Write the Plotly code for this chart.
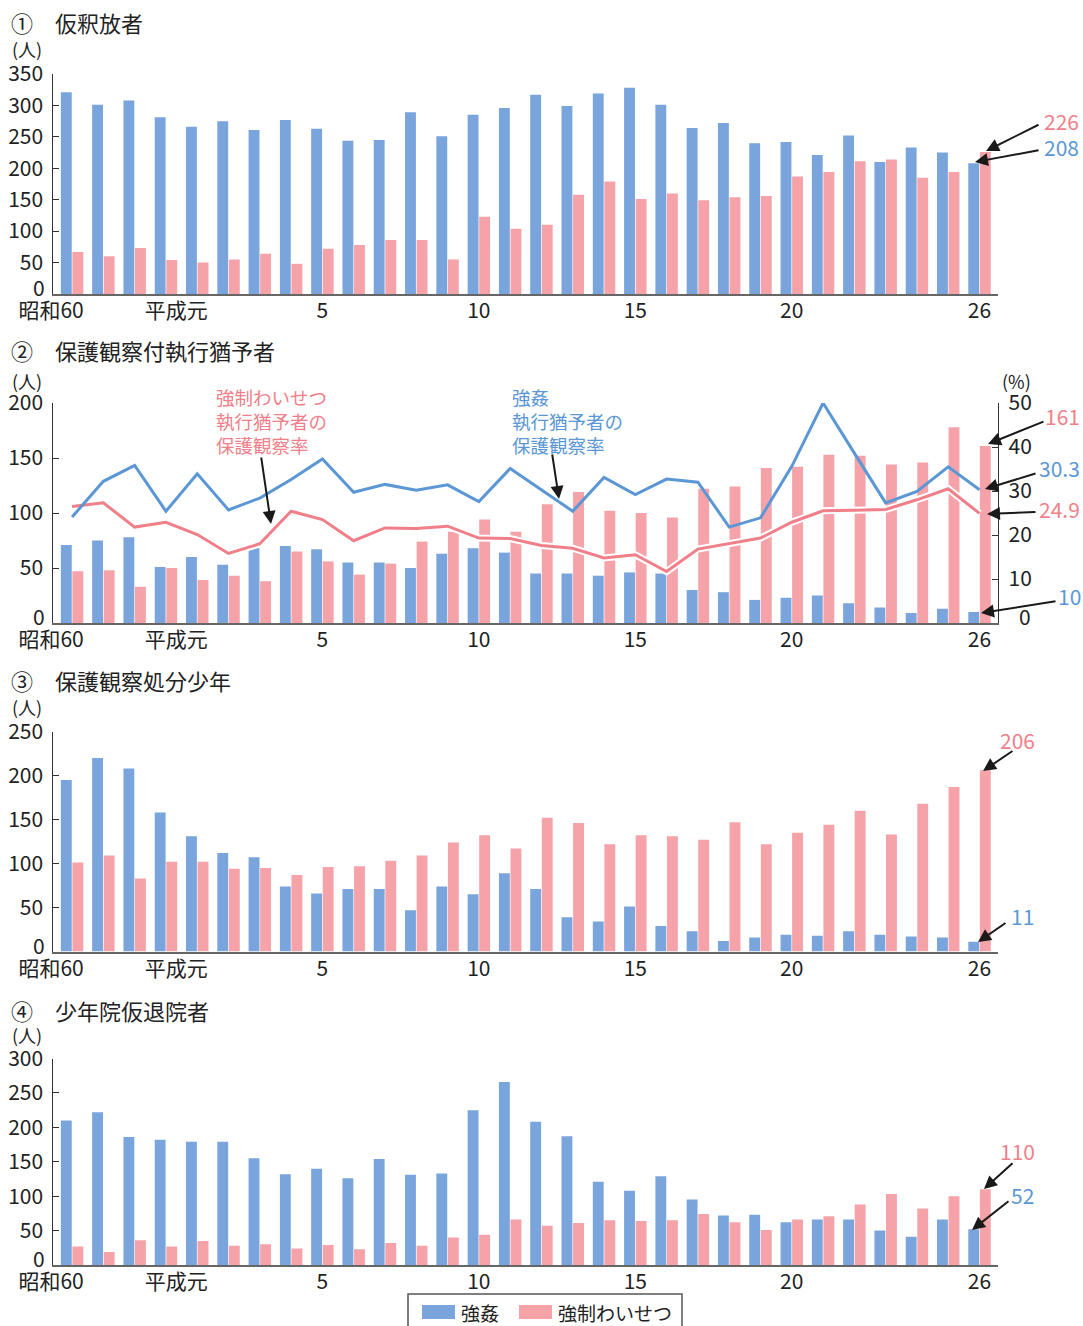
import plotly.graph_objects as go

W, H = 1083, 1326
FONT = "Noto Sans CJK JP"

# ---------------- data ----------------
years = ["昭和60", "61", "62", "63", "平成元"] + [str(i) for i in range(2, 27)]
tick_years = ["昭和60", "平成元", "5", "10", "15", "20", "26"]
tick_text = ["昭和60\u3000\u3000", "平成元\u3000\u3000", "5", "10", "15", "20", "26"]
series_names = ["強姦", "強制わいせつ"]

# ① 仮釈放者
parole_rape = [321, 301, 308, 281, 266, 275, 261, 277, 263, 244, 245, 289, 251, 285, 296,
               317, 299, 319, 328, 301, 264, 272, 240, 242, 221, 252, 210, 233, 225, 208]
parole_indecent = [67, 60, 73, 54, 50, 55, 64, 48, 72, 78, 86, 86, 55, 123, 104,
                   110, 158, 179, 151, 160, 149, 154, 156, 187, 194, 211, 214, 185, 194, 226]

# ② 保護観察付執行猶予者
susp_rape = [71, 75, 78, 51, 60, 53, 68, 70, 67, 55, 55, 50, 63, 68, 64,
             45, 45, 43, 46, 45, 30, 28, 21, 23, 25, 18, 14, 9, 13, 10]
susp_indecent = [47, 48, 33, 50, 39, 43, 38, 65, 56, 44, 54, 74, 83, 94, 83,
                 108, 119, 102, 100, 96, 122, 124, 141, 142, 153, 152, 144, 146, 178, 161]
rate_rape = [24.1, 32.2, 35.8, 25.4, 33.9, 25.7, 28.4, 32.6, 37.3, 29.7, 31.5, 30.2, 31.4, 27.6, 35.1,
             30.3, 25.4, 33.1, 29.2, 32.7, 32.0, 21.8, 23.9, 35.6, 50.0, 38.6, 27.3, 29.9, 35.5, 30.3]
rate_indecent = [26.5, 27.3, 21.8, 22.9, 20.1, 15.8, 18.0, 25.4, 23.5, 18.7, 21.6, 21.5, 22.0, 19.3, 19.2,
                 17.6, 17.0, 14.8, 15.5, 11.7, 16.8, 18.0, 19.3, 22.9, 25.5, 25.6, 25.8, 28.0, 30.5, 24.9]

# ③ 保護観察処分少年
juv_rape = [195, 220, 208, 158, 131, 112, 107, 74, 66, 71, 71, 47, 74, 65, 89,
            71, 39, 34, 51, 29, 23, 12, 16, 19, 18, 23, 19, 17, 16, 11]
juv_indecent = [101, 109, 83, 102, 102, 94, 95, 87, 96, 97, 103, 109, 124, 132, 117,
                152, 146, 122, 132, 131, 127, 147, 122, 135, 144, 160, 133, 168, 187, 206]

# ④ 少年院仮退院者
ts_rape = [210, 222, 186, 182, 179, 179, 155, 132, 140, 126, 154, 131, 133, 225, 266,
           208, 187, 121, 108, 129, 95, 72, 73, 62, 66, 66, 50, 41, 66, 52]
ts_indecent = [27, 19, 36, 27, 35, 28, 30, 24, 29, 23, 32, 28, 40, 44, 66,
               57, 61, 65, 64, 65, 74, 62, 51, 66, 71, 88, 103, 82, 100, 110]

panel_titles = ["①\u3000仮釈放者", "②\u3000保護観察付執行猶予者",
                "③\u3000保護観察処分少年", "④\u3000少年院仮退院者"]
panel_ymax = [350, 200, 250, 300]

# ---------------- style ----------------
BLUE = "#79a5dc"
PINK = "#f5a2a9"
BLUE_LINE = "#5b97d4"
PINK_LINE = "#f07f89"
BLUE_TXT = "#5b97d4"
PINK_TXT = "#f07f89"
AX = "#333333"


def px(x):
    return x / W


def py(y):
    return 1 - y / H


# pixel geometry of plot areas (top pixel, bottom pixel)
X0, X1 = 53.3, 998.3
panel_px = [(74, 294), (403, 623), (731.5, 951.5), (1058.5, 1265)]

fig = go.Figure()

data_pairs = [(parole_rape, parole_indecent), (susp_rape, susp_indecent),
              (juv_rape, juv_indecent), (ts_rape, ts_indecent)]

for k, (a, b) in enumerate(data_pairs, start=1):
    xa = "x" if k == 1 else f"x{k}"
    ya = "y" if k == 1 else f"y{k}"
    fig.add_trace(go.Bar(x=years, y=a, name=series_names[0], marker_color=BLUE,
                         marker_line_width=0, xaxis=xa, yaxis=ya, showlegend=False))
    fig.add_trace(go.Bar(x=years, y=b, name=series_names[1], marker_color=PINK,
                         marker_line_width=0, xaxis=xa, yaxis=ya, showlegend=False))

# rate lines (panel 2, right axis)
fig.add_trace(go.Scatter(x=years, y=rate_indecent, mode="lines", xaxis="x2", yaxis="y5",
                         line=dict(color="white", width=7), showlegend=False, hoverinfo="skip"))
fig.add_trace(go.Scatter(x=years, y=rate_indecent, mode="lines", xaxis="x2", yaxis="y5",
                         line=dict(color=PINK_LINE, width=3), showlegend=False))
fig.add_trace(go.Scatter(x=years, y=rate_rape, mode="lines", xaxis="x2", yaxis="y5",
                         line=dict(color=BLUE_LINE, width=3), showlegend=False))

tickfont = dict(family=FONT, size=21, color="#222222")
layout = dict(
    template="none",
    width=W, height=H, margin=dict(l=0, r=0, t=0, b=0, pad=0), autosize=False,
    paper_bgcolor="white", plot_bgcolor="white",
    barmode="group", bargap=0.26, bargroupgap=0.06,
    font=dict(family=FONT, color="#222222"),
    showlegend=False,
)

annotations = []
shapes = []

for k in range(1, 5):
    top, bot = panel_px[k - 1]
    sfx = "" if k == 1 else str(k)
    ymax = panel_ymax[k - 1]
    layout[f"xaxis{sfx}"] = dict(
        domain=[px(X0), px(X1)], anchor=f"y{sfx}", type="category", automargin=False,
        categoryorder="array", categoryarray=years, range=[-0.6, 29.6],
        tickmode="array", tickvals=tick_years, ticktext=tick_text, tickangle=0,
        showline=True, linecolor="#666666", linewidth=2, ticks="",
        showgrid=False, zeroline=False, tickfont=tickfont, ticklabelstandoff=-3,
    )
    vals = list(range(0, ymax + 1, 50))
    layout[f"yaxis{sfx}"] = dict(
        domain=[py(bot), py(top)], anchor=f"x{sfx}", range=[0, ymax], automargin=False,
        tickmode="array", tickvals=vals, ticktext=[""] + [str(v) for v in vals[1:]],
        ticks="inside", ticklen=6, tickcolor=AX, tickwidth=1,
        showline=True, linecolor=AX, linewidth=1, showgrid=False, zeroline=False,
        tickfont=tickfont, ticklabelstandoff=5,
    )
    # raised "0" label
    annotations.append(dict(text="0", x=px(47), y=py(bot - 7), xref="paper", yref="paper",
                            xanchor="right", yanchor="middle", showarrow=False,
                            font=dict(family=FONT, size=21, color="#222222")))
    # panel title
    annotations.append(dict(text=panel_titles[k - 1], x=px(9), y=py([22, 350, 680, 1010][k - 1]),
                            xref="paper", yref="paper", xanchor="left", yanchor="middle",
                            showarrow=False, font=dict(family=FONT, size=22, color="#222222")))
    # unit label
    annotations.append(dict(text="(人)", x=px(10), y=py([49, 381, 707, 1035][k - 1]),
                            xref="paper", yref="paper", xanchor="left", yanchor="middle",
                            showarrow=False, font=dict(family=FONT, size=18, color="#222222")))

layout["yaxis5"] = dict(
    overlaying="y2", side="right", anchor="x2", range=[0, 50], automargin=False,
    tickmode="array", tickvals=[0, 10, 20, 30, 40, 50], ticktext=["", "10", "20", "30", "40", "50"],
    ticks="inside", ticklen=6, tickcolor=AX, showline=True, linecolor=AX, linewidth=1,
    showgrid=False, zeroline=False, tickfont=tickfont, ticklabelstandoff=5,
)
annotations.append(dict(text="0", x=px(1017), y=py(616), xref="paper", yref="paper",
                        xanchor="left", yanchor="middle", showarrow=False,
                        font=dict(family=FONT, size=21, color="#222222")))
annotations.append(dict(text="(%)", x=px(1000), y=py(381), xref="paper", yref="paper",
                        xanchor="left", yanchor="middle", showarrow=False,
                        font=dict(family=FONT, size=18, color="#222222")))

# line labels in panel 2
annotations.append(dict(text="強制わいせつ<br>執行猶予者の<br>保護観察率", x=px(214), y=py(421),
                        xref="paper", yref="paper", xanchor="left", yanchor="middle", align="left",
                        showarrow=False, font=dict(family=FONT, size=18.5, color=PINK_TXT)))
annotations.append(dict(text="強姦<br>執行猶予者の<br>保護観察率", x=px(510), y=py(421),
                        xref="paper", yref="paper", xanchor="left", yanchor="middle", align="left",
                        showarrow=False, font=dict(family=FONT, size=18.5, color=BLUE_TXT)))


def arrow(x, y, ax, ay, xref="paper", yref="paper"):
    annotations.append(dict(text="", x=x, y=y, xref=xref, yref=yref, ax=ax, ay=ay,
                            axref="pixel", ayref="pixel", showarrow=True, arrowhead=2,
                            arrowsize=1.3, arrowwidth=2, arrowcolor="#1a1a1a", standoff=0))


def label(text, xpix, ypix, color, anchor="center"):
    annotations.append(dict(text=text, x=px(xpix), y=py(ypix), xref="paper", yref="paper",
                            xanchor=anchor, yanchor="middle", showarrow=False,
                            font=dict(family=FONT, size=21, color=color)))


# arrows pointing to line annotations (panel 2)
arrow(px(271), py(524), -10, -68)
arrow(px(559), py(499), -7, -46)

# Panel 1 end values
label(str(parole_indecent[-1]), 1061, 121, PINK_TXT)
label(str(parole_rape[-1]), 1061, 147, BLUE_TXT)
arrow(px(986), py(151), 54, -27)
arrow(px(975), py(162), 65, -12)

# Panel 2 end values
label(str(susp_indecent[-1]), 1062, 416, PINK_TXT)
label(f"{rate_rape[-1]:.1f}", 1059, 468, BLUE_TXT)
label(f"{rate_indecent[-1]:.1f}", 1059, 509, PINK_TXT)
label(str(susp_rape[-1]), 1069, 596, BLUE_TXT)
arrow(px(988), py(444), 57, -23)
arrow(px(985), py(489), 52, -16)
arrow(px(987), py(514), 50, -2)
arrow(px(981), py(613), 76, -12)

# Panel 3 end values
label(str(juv_indecent[-1]), 1017, 740, PINK_TXT)
label(str(juv_rape[-1]), 1022, 916, BLUE_TXT)
arrow(px(983), py(771), 31, -21)
arrow(px(978), py(942), 29, -20)

# Panel 4 end values
label(str(ts_indecent[-1]), 1017, 1151, PINK_TXT)
label(str(ts_rape[-1]), 1022, 1195, BLUE_TXT)
arrow(px(984), py(1189), 30, -27)
arrow(px(972), py(1230), 38, -30)

# legend (drawn)
shapes.append(dict(type="rect", xref="paper", yref="paper", x0=px(408), x1=px(682),
                   y0=py(1332), y1=py(1294), line=dict(color="#555555", width=1.5),
                   fillcolor="white"))
shapes.append(dict(type="rect", xref="paper", yref="paper", x0=px(422), x1=px(455),
                   y0=py(1319), y1=py(1305), line=dict(width=0), fillcolor=BLUE))
shapes.append(dict(type="rect", xref="paper", yref="paper", x0=px(519), x1=px(552),
                   y0=py(1319), y1=py(1305), line=dict(width=0), fillcolor=PINK))
annotations.append(dict(text=series_names[0], x=px(459), y=py(1312), xref="paper", yref="paper",
                        xanchor="left", yanchor="middle", showarrow=False,
                        font=dict(family=FONT, size=19, color="#222222")))
annotations.append(dict(text=series_names[1], x=px(556), y=py(1312), xref="paper", yref="paper",
                        xanchor="left", yanchor="middle", showarrow=False,
                        font=dict(family=FONT, size=19, color="#222222")))

layout["annotations"] = annotations
layout["shapes"] = shapes
fig.update_layout(**layout)
fig.write_html("out.html")
